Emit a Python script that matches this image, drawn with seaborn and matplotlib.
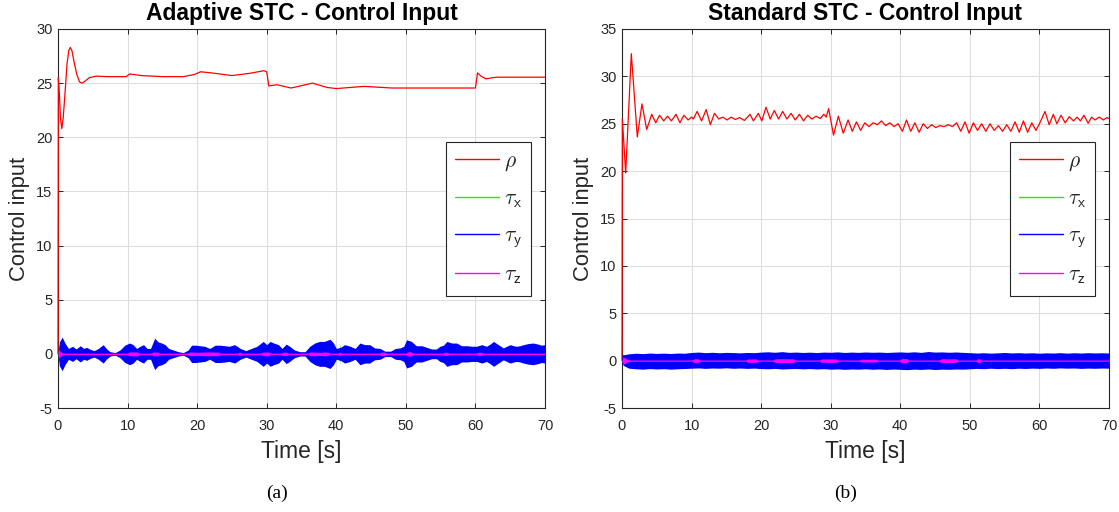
import numpy as np
import matplotlib
matplotlib.use("Agg")
import matplotlib.pyplot as plt
from matplotlib.lines import Line2D
import seaborn as sns

# ---------------- Adaptive STC ----------------
# thrust input rho (knots of the trace)
adaptive_rho_t = [0.0, 0.05, 0.2, 0.35, 0.55, 0.75, 1.0, 1.3, 1.55, 1.77, 2.0, 2.3, 2.7,
                  3.1, 3.5, 3.9, 4.5, 5.5, 7.0, 9.8, 10.3, 12.0, 15.0, 18.0, 19.6, 20.5,
                  22.0, 25.0, 27.5, 29.6, 30.0, 30.3, 31.5, 33.5, 36.6, 38.7, 40.0, 44.0,
                  48.0, 55.0, 60.0, 60.3, 60.8, 61.5, 63.0, 66.0, 70.0]
adaptive_rho_v = [0.0, 25.5, 24.0, 21.8, 20.8, 21.8, 24.0, 26.8, 28.0, 28.3, 28.0, 27.0, 25.8,
                  25.1, 25.0, 25.2, 25.5, 25.65, 25.6, 25.6, 25.85, 25.7, 25.6, 25.6, 25.8, 26.05,
                  25.95, 25.7, 25.9, 26.15, 26.05, 24.75, 24.85, 24.55, 25.0, 24.6, 24.5, 24.7,
                  24.55, 24.55, 24.55, 25.95, 25.65, 25.4, 25.55, 25.55, 25.55]

# tau_y oscillation envelope (half width around zero)
adaptive_tauy_t = [0.0, 0.2, 0.6, 1.0, 1.5, 2.1, 2.6, 3.2, 3.7, 4.1, 4.7, 5.2, 5.8, 6.5,
                   7.0, 7.5, 8.2, 8.9, 9.6, 10.3, 10.8, 11.3, 11.8, 12.3, 12.8, 13.3,
                   13.9, 14.4, 14.9, 15.4, 15.9, 16.6, 17.3, 18.0, 18.7, 19.2, 19.8,
                   20.4, 21.1, 21.8, 22.6, 23.3, 24.0, 24.6, 25.4, 26.2, 27.0, 27.8,
                   28.6, 29.5, 30.0, 30.5, 31.0, 31.7, 32.2, 32.8, 33.3, 34.0, 34.8,
                   35.5, 36.2, 36.9, 37.6, 38.3, 39.1, 39.6, 40.0, 40.6, 41.2, 42.0,
                   42.7, 43.4, 44.1, 44.8, 45.5, 46.3, 47.0, 47.8, 48.5, 49.2, 49.7,
                   50.1, 50.8, 51.5, 52.3, 53.0, 53.7, 54.4, 54.9, 55.4, 55.9, 56.6,
                   57.3, 58.0, 58.8, 59.5, 60.2, 60.9, 61.6, 62.1, 62.6, 63.3, 64.0,
                   64.5, 65.0, 65.5, 65.9, 66.4, 66.9, 67.6, 68.3, 69.0, 69.5, 70.0]
adaptive_tauy_amp = [0.0, 1.1, 1.55, 1.0, 0.5, 0.7, 0.45, 0.75, 0.5, 0.6, 0.4, 0.3, 0.5, 0.85,
                     0.45, 0.2, 0.12, 0.35, 0.8, 1.0, 0.85, 0.5, 0.7, 0.85, 0.5, 0.5,
                     1.45, 1.1, 1.0, 0.85, 0.5, 0.35, 0.2, 0.12, 0.35, 0.8, 0.8,
                     0.75, 0.7, 0.5, 0.8, 0.8, 0.75, 0.7, 0.85, 0.5, 0.3, 0.5,
                     0.7, 1.15, 0.85, 1.15, 1.0, 0.85, 0.5, 0.9, 0.7, 0.35, 0.2,
                     0.2, 0.7, 1.0, 1.15, 1.15, 1.35, 1.0, 0.5, 0.6, 0.85, 0.7,
                     0.5, 1.0, 0.85, 0.85, 0.55, 0.5, 0.25, 0.25, 0.5, 0.55, 0.7,
                     1.3, 1.15, 0.75, 0.75, 0.6, 0.45, 0.45, 0.7, 0.8, 1.15, 1.0,
                     1.0, 0.75, 0.75, 0.7, 0.7, 0.85, 0.7, 0.9, 1.15, 0.85, 0.55,
                     0.7, 0.85, 0.75, 0.7, 0.75, 0.85, 0.95, 1.0, 0.9, 0.8, 0.85]

# tau_x envelope (mostly hidden below tau_y)
adaptive_taux_t = [0.0, 0.15, 0.4, 20.25, 20.45, 20.65, 40.3, 40.5, 40.7, 70.0]
adaptive_taux_amp = [0.0, 0.8, 0.1, 0.1, 0.85, 0.1, 0.1, 0.85, 0.1, 0.1]

# tau_z envelope
adaptive_tauz_t = [0.0, 0.15, 0.35, 0.6, 1.0, 9.9, 10.3, 11.4, 11.7, 13.4, 13.7, 14.3, 14.6,
                   18.6, 19.0, 20.0, 21.5, 23.0, 23.4, 25.8, 26.1, 26.4, 29.1, 29.5, 30.3,
                   30.6, 32.0, 32.4, 32.8, 33.1, 35.9, 36.3, 37.8, 38.3, 38.8, 39.1, 40.2,
                   40.5, 40.8, 46.2, 46.5, 46.9, 47.2, 50.0, 50.3, 50.7, 51.0, 55.3, 55.6,
                   55.9, 56.2, 60.1, 60.4, 60.8, 61.1, 70.0]
adaptive_tauz_amp = [0.0, 0.45, 0.2, 0.1, 0.07, 0.07, 0.18, 0.18, 0.07, 0.07, 0.17, 0.17, 0.07,
                     0.07, 0.18, 0.14, 0.18, 0.16, 0.07, 0.07, 0.17, 0.07, 0.07, 0.17, 0.17,
                     0.07, 0.07, 0.16, 0.16, 0.07, 0.07, 0.18, 0.14, 0.18, 0.15, 0.07, 0.07,
                     0.15, 0.07, 0.07, 0.17, 0.17, 0.07, 0.07, 0.2, 0.2, 0.07, 0.07, 0.15,
                     0.15, 0.07, 0.07, 0.15, 0.15, 0.07, 0.07]

# ---------------- Standard STC ----------------
standard_rho_t = [0.0, 0.05, 0.53, 1.34, 2.2, 2.87, 3.55, 4.27, 4.85, 5.4, 5.99, 6.56, 7.1,
                  7.76, 8.33, 8.9, 9.5, 10.0, 10.25, 10.8, 11.44, 12.1, 12.7, 13.3, 13.9,
                  14.5, 15.1, 15.7, 16.3, 16.9, 17.6, 18.4, 18.9, 19.6, 20.1, 20.7, 21.3,
                  21.9, 22.5, 23.1, 23.7, 24.3, 24.9, 25.5, 26.1, 26.7, 27.3, 27.9, 28.5,
                  29.0, 29.35, 29.7, 30.4, 31.1, 31.8, 32.5, 33.1, 33.7, 34.3, 34.9, 35.5,
                  36.1, 36.7, 37.3, 37.9, 38.5, 39.1, 39.7, 40.3, 40.9, 41.5, 42.1, 42.7,
                  43.3, 43.9, 44.5, 45.1, 45.7, 46.3, 46.9, 47.5, 48.1, 48.7, 49.3, 49.9,
                  50.5, 51.1, 51.7, 52.3, 52.9, 53.5, 54.1, 54.7, 55.3, 55.9, 56.5, 57.1,
                  57.7, 58.3, 58.9, 59.5, 60.0, 60.8, 61.4, 62.0, 62.5, 63.1, 63.7, 64.3,
                  64.9, 65.4, 65.9, 66.4, 67.0, 67.5, 68.0, 68.6, 69.2, 69.7, 70.0]
standard_rho_v = [0.0, 25.5, 19.8, 32.4, 23.6, 27.1, 24.4, 26.0, 25.1, 25.9, 25.3, 25.8, 25.3,
                  26.0, 25.1, 25.9, 25.4, 25.7, 25.5, 26.3, 25.3, 26.5, 24.9, 26.1, 25.5,
                  25.7, 25.4, 25.7, 25.45, 25.65, 25.35, 26.0, 25.3, 26.1, 25.3, 26.75, 25.5,
                  26.4, 25.5, 26.3, 25.5, 26.1, 25.4, 26.0, 25.3, 25.9, 25.5, 25.8, 25.55,
                  26.0, 25.7, 26.6, 23.8, 25.8, 24.0, 25.4, 24.2, 25.2, 24.3, 25.1, 24.7,
                  25.1, 24.9, 25.3, 24.8, 25.1, 24.7, 25.0, 24.2, 25.4, 24.2, 25.1, 24.1,
                  25.0, 24.5, 24.9, 24.6, 24.8, 24.7, 24.9, 24.7, 25.1, 24.2, 25.2, 24.0,
                  25.1, 24.3, 25.0, 24.2, 25.0, 24.3, 24.8, 24.2, 24.9, 24.2, 25.2, 24.1,
                  25.3, 24.1, 25.1, 24.3, 25.0, 26.3, 24.9, 26.0, 25.0, 25.9, 25.1, 25.75,
                  25.3, 25.7, 25.3, 25.9, 25.05, 25.7, 25.4, 25.7, 25.4, 25.65, 25.55]

# tau_y band edges
standard_tauy_t = [0, 0.3, 1, 2, 3, 4, 5, 6, 7, 8, 9, 10, 11, 12, 13, 14, 15, 16, 17, 18,
                   19, 20, 21, 22, 23, 24, 25, 26, 27, 28, 29, 30, 31, 32, 33, 34, 35, 36,
                   37, 38, 39, 40, 41, 42, 43, 44, 45, 46, 47, 48, 49, 50, 51, 52, 53, 54,
                   55, 56, 57, 58, 59, 60, 61, 62, 63, 64, 65, 66, 67, 68, 69, 70]
standard_tauy_hi = [0.65, 0.62, 0.72, 0.78, 0.74, 0.8, 0.76, 0.79, 0.75, 0.8, 0.78, 0.86,
                    0.9, 0.84, 0.88, 0.83, 0.87, 0.85, 0.82, 0.86, 0.84, 0.9, 0.93, 0.88,
                    0.95, 0.87, 0.9, 0.86, 0.89, 0.85, 0.9, 0.88, 0.92, 0.86, 0.9, 0.87,
                    0.91, 0.88, 0.9, 0.86, 0.89, 0.92, 0.88, 0.93, 0.87, 0.96, 0.9, 0.92,
                    0.88, 0.91, 0.87, 0.84, 0.8, 0.83, 0.79, 0.82, 0.86, 0.81, 0.84, 0.8,
                    0.83, 0.78, 0.82, 0.8, 0.84, 0.79, 0.83, 0.8, 0.84, 0.81, 0.83, 0.8]
standard_tauy_lo = [-0.3, -0.55, -0.8, -0.86, -0.9, -0.84, -0.88, -0.85, -0.9, -0.86, -0.83,
                    -0.8, -0.77, -0.82, -0.78, -0.8, -0.76, -0.81, -0.78, -0.82, -0.79,
                    -0.84, -0.86, -0.82, -0.88, -0.85, -0.83, -0.87, -0.84, -0.88, -0.85,
                    -0.9, -0.87, -0.92, -0.88, -0.9, -0.86, -0.91, -0.88, -0.93, -0.89,
                    -0.92, -0.95, -0.9, -0.93, -0.88, -0.94, -0.9, -0.92, -0.88, -0.9,
                    -0.86, -0.82, -0.85, -0.8, -0.84, -0.81, -0.85, -0.8, -0.83, -0.79,
                    -0.82, -0.78, -0.81, -0.77, -0.8, -0.78, -0.82, -0.79, -0.81, -0.78, -0.8]

standard_taux_t = [0.0, 0.2, 0.5, 70.0]
standard_taux_amp = [0.0, 0.5, 0.3, 0.3]

standard_tauz_t = [0.0, 0.15, 0.4, 0.8, 1.2, 10.1, 10.4, 10.9, 11.2, 17.8, 18.1, 19.3, 19.6,
                   21.7, 22.0, 24.6, 24.9, 28.4, 28.7, 30.8, 31.1, 34.1, 34.4, 36.5, 36.8,
                   39.9, 40.2, 40.9, 41.2, 45.6, 45.9, 48.0, 48.3, 50.9, 51.1, 51.4, 51.6, 70.0]
standard_tauz_amp = [0.0, 0.4, 0.3, 0.12, 0.07, 0.07, 0.2, 0.2, 0.07, 0.07, 0.18, 0.18, 0.07,
                     0.07, 0.2, 0.2, 0.07, 0.07, 0.18, 0.18, 0.07, 0.07, 0.15, 0.15, 0.07,
                     0.07, 0.22, 0.22, 0.07, 0.07, 0.2, 0.2, 0.07, 0.07, 0.2, 0.2, 0.07, 0.07]

x_ticks = [0, 10, 20, 30, 40, 50, 60, 70]
adaptive_y_ticks = [-5, 0, 5, 10, 15, 20, 25, 30]
standard_y_ticks = [-5, 0, 5, 10, 15, 20, 25, 30, 35]
series_labels = [r"$\rho$", r"$\tau_{\mathsf{x}}$", r"$\tau_{\mathsf{y}}$", r"$\tau_{\mathsf{z}}$"]
series_colors = ["#ff0000", "#00ff00", "#0000ff", "#ff00ff"]

# ---------------- styling ----------------
sns.set_theme(style="whitegrid")
plt.rcParams["font.family"] = ["Liberation Sans", "DejaVu Sans"]
plt.rcParams["mathtext.fontset"] = "cm"
plt.rcParams["axes.unicode_minus"] = False

AX_COL = "#262626"
GRID_COL = "#dedede"

fig = plt.figure(figsize=(11.19, 5.12), dpi=100)
fig.patch.set_facecolor("white")

ax_a = fig.add_axes([58 / 1119, 1 - 408 / 512, 487 / 1119, 379 / 512])
ax_b = fig.add_axes([622 / 1119, 1 - 408 / 512, 487 / 1119, 379 / 512])


def band(ax, t, lo, hi, color):
    ax.fill_between(t, lo, hi, color=color, lw=0, antialiased=True, zorder=3)


def style_axes(ax, yticks, ylim, title):
    ax.set_xlim(0, 70)
    ax.set_ylim(*ylim)
    ax.set_xticks(x_ticks)
    ax.set_yticks(yticks)
    ax.set_facecolor("white")
    ax.grid(True, color=GRID_COL, lw=0.8)
    ax.set_axisbelow(True)
    for s in ax.spines.values():
        s.set_visible(True)
        s.set_color(AX_COL)
        s.set_linewidth(0.8)
    ax.tick_params(axis="both", direction="in", length=3.4, width=0.7, color=AX_COL,
                   labelsize=10.5, labelcolor=AX_COL, top=True, right=True,
                   bottom=True, left=True)
    ax.tick_params(axis="x", pad=8)
    ax.tick_params(axis="y", pad=4)
    ax.set_title(title, fontsize=16.5, fontweight="bold", pad=6.5, color="black")
    ax.set_xlabel("Time [s]", fontsize=16.5, color=AX_COL)
    ax.set_ylabel("Control input", fontsize=15.8, color=AX_COL)
    ax.xaxis.set_label_coords(0.5, -0.085)
    ax.yaxis.set_label_coords(-0.057, 0.5)
    handles = [Line2D([], [], color=c, lw=1.0) for c in series_colors]
    leg = ax.legend(handles, series_labels, loc="upper right",
                    bbox_to_anchor=(0.971, 0.702), borderaxespad=0, fontsize=15.5,
                    frameon=True, fancybox=False, framealpha=1, edgecolor="#262626",
                    handlelength=2.05, handletextpad=0.2, labelspacing=0.7,
                    borderpad=0.42)
    leg.get_frame().set_linewidth(0.8)
    leg.set_zorder(10)


# Adaptive STC panel
sns.lineplot(x=adaptive_rho_t, y=adaptive_rho_v, ax=ax_a, color=series_colors[0],
             lw=0.9, estimator=None, sort=False, legend=False, zorder=2.8)
ta = np.array(adaptive_taux_t); aa = np.array(adaptive_taux_amp)
band(ax_a, ta, -aa, aa, series_colors[1])
ta = np.array(adaptive_tauy_t); aa = np.array(adaptive_tauy_amp)
band(ax_a, ta, -aa, aa, series_colors[2])
ta = np.array(adaptive_tauz_t); aa = np.array(adaptive_tauz_amp)
band(ax_a, ta, -aa, aa, series_colors[3])
style_axes(ax_a, adaptive_y_ticks, (-5, 30), "Adaptive STC - Control Input")

# Standard STC panel
sns.lineplot(x=standard_rho_t, y=standard_rho_v, ax=ax_b, color=series_colors[0],
             lw=0.9, estimator=None, sort=False, legend=False, zorder=2.8)
ta = np.array(standard_taux_t); aa = np.array(standard_taux_amp)
band(ax_b, ta, -aa, aa, series_colors[1])
band(ax_b, standard_tauy_t, standard_tauy_lo, standard_tauy_hi, series_colors[2])
ta = np.array(standard_tauz_t); aa = np.array(standard_tauz_amp)
band(ax_b, ta, -aa, aa, series_colors[3])
style_axes(ax_b, standard_y_ticks, (-5, 35), "Standard STC - Control Input")

for ax in (ax_a, ax_b):
    for ln in ax.get_lines():
        ln.set_clip_on(False)
        ln.set_solid_joinstyle("round")

# panel captions
fig.text(277 / 1119, 1 - 493 / 512, "(a)", ha="center", va="center", fontsize=14,
         family=["Liberation Serif", "DejaVu Serif"], color="black")
fig.text(846 / 1119, 1 - 493 / 512, "(b)", ha="center", va="center", fontsize=14,
         family=["Liberation Serif", "DejaVu Serif"], color="black")

fig.savefig("out.png", dpi=100, facecolor="white")
